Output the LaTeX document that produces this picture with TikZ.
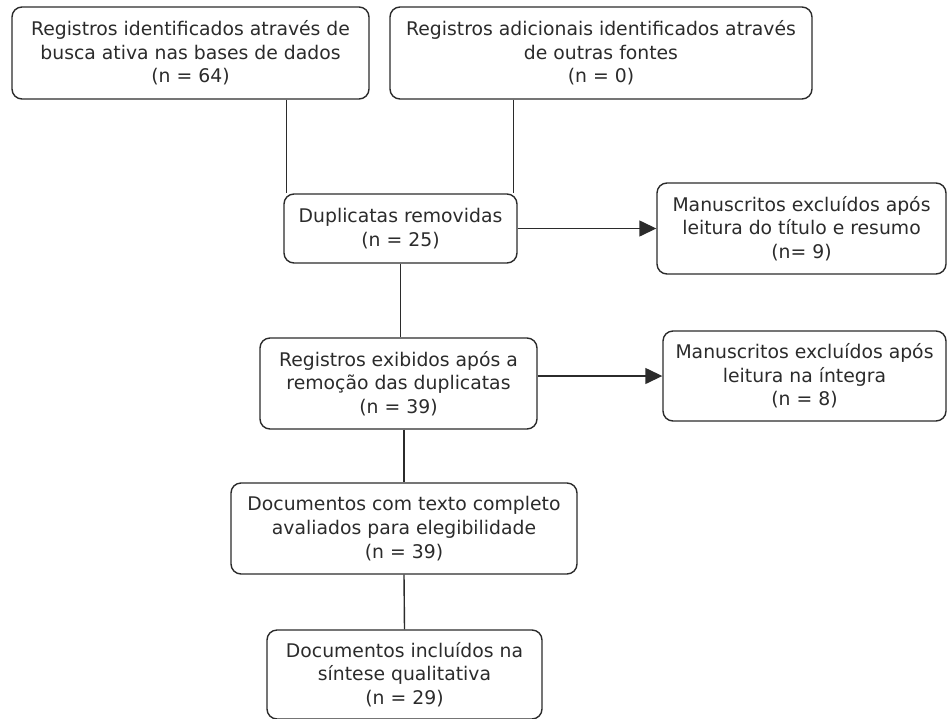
\documentclass[tikz,border=0pt]{standalone}
\usepackage{fontspec}
\setmainfont{DejaVu Sans}
\usetikzlibrary{arrows.meta}
\definecolor{ink}{HTML}{2B2B2B}
\begin{document}
\begin{tikzpicture}[x=1pt,y=-1pt,
  flowbox/.style={draw=ink, text=ink, line width=1.4pt, rounded corners=10pt, align=center,
    inner sep=0pt, font=\fontsize{18.8pt}{23.7pt}\selectfont},
  link/.style={draw=ink, line width=1.4pt},
  arrowlink/.style={link, -{Triangle[length=17pt,width=16pt]}}]
\useasboundingbox (0,0) rectangle (947,718);
\node[flowbox, minimum width=357pt, minimum height=92pt] (b1) at (190.5,53)
  {Registros identificados através de\\busca ativa nas bases de dados\\(n = 64)};
\node[flowbox, minimum width=422pt, minimum height=92pt] (b2) at (601,53)
  {Registros adicionais identificados através\\de outras fontes\\(n = 0)};
\node[flowbox, minimum width=233pt, minimum height=69pt] (dup) at (400.5,228.5)
  {Duplicatas removidas\\(n = 25)};
\node[flowbox, minimum width=289pt, minimum height=91pt] (m1) at (801.5,228.5)
  {Manuscritos excluídos após\\leitura do título e resumo\\(n= 9)};
\node[flowbox, minimum width=277pt, minimum height=91pt] (reg) at (398.5,383.5)
  {Registros exibidos após a\\remoção das duplicatas\\(n = 39)};
\node[flowbox, minimum width=283pt, minimum height=90pt] (m2) at (804.5,376)
  {Manuscritos excluídos após\\leitura na íntegra\\(n = 8)};
\node[flowbox, minimum width=346pt, minimum height=91pt] (doc1) at (404,528.5)
  {Documentos com texto completo\\avaliados para elegibilidade\\(n = 39)};
\node[flowbox, minimum width=275pt, minimum height=89pt] (doc2) at (404.5,674.5)
  {Documentos incluídos na\\síntese qualitativa\\(n = 29)};
\draw[link] ([xshift=3pt]dup.north west |- b1.south) -- ([xshift=3pt]dup.north west);
\draw[link] ([xshift=-4pt]dup.north east |- b2.south) -- ([xshift=-4pt]dup.north east);
\draw[arrowlink] (dup.east) -- (m1.west);
\draw[link] (dup.south) -- (reg.north -| dup.south);
\draw[arrowlink] (reg.east |- m2.west) -- (m2.west);
\draw[link] (doc1.north |- reg.south) -- (doc1.north);
\draw[link] (doc1.south) -- (doc2.north);
\end{tikzpicture}
\end{document}
